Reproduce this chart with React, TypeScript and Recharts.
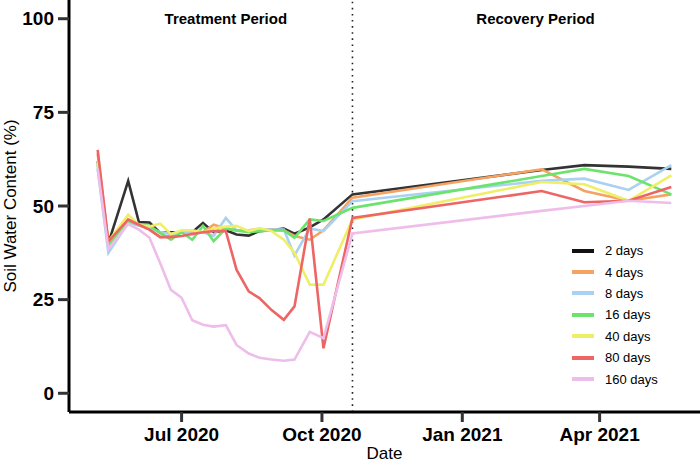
import React from 'react';
import {
  LineChart,
  Line,
  XAxis,
  YAxis,
  ReferenceLine,
  ReferenceDot,
  Legend,
} from 'recharts';

// sampling dates (treatment weekly-ish, then recovery)
const sampleDates = [
  '2020-05-07', '2020-05-14', '2020-05-27', '2020-06-03', '2020-06-10',
  '2020-06-17', '2020-06-24', '2020-07-01', '2020-07-08', '2020-07-15',
  '2020-07-22', '2020-07-30', '2020-08-06', '2020-08-14', '2020-08-21',
  '2020-08-29', '2020-09-06', '2020-09-13', '2020-09-23', '2020-10-02',
  '2020-10-21', '2021-02-22', '2021-03-22', '2021-04-20', '2021-05-18',
];

const days2 = [62, 40, 56.7, 45.7, 45.6, 42.8, 43, 43, 43, 45.5, 43, 43.5, 42.4, 42.1, 43.3, 43.6, 44, 42.6, 44.3, 46.4, 53.1, 59.6, 60.9, 60.5, 59.9];
const days4 = [64, 40, 46.4, 45, 43.7, 41.7, 42, 43, 43, 43, 45, 44, 43.5, 43.5, 43.8, 43.8, 43.5, 42, 41, 43.5, 52.2, 59.8, 54, 51.4, 53.1];
const days8 = [60, 37.5, 45.5, 44.7, 44.2, 43, 42.5, 43, 42.5, 43, 42, 46.8, 43.5, 43.5, 43.7, 43.7, 43.7, 36.8, 44, 43.3, 51.3, 56.7, 57.3, 54.3, 60.9];
const days16 = [61, 39.5, 46, 45, 44.7, 42.8, 41, 43, 41, 44.7, 40.6, 44, 43.5, 43, 43.3, 43.5, 43.5, 41.5, 46.4, 46, 49.5, 58, 59.9, 58, 53.1];
const days40 = [62, 40.5, 47.7, 45, 44.5, 45.3, 42.5, 43.5, 43.5, 43, 44, 44.5, 44.7, 43.3, 44.1, 43.3, 41, 37.5, 29, 29, 46.4, 56.4, 55.8, 51.4, 58.2];
const days80 = [65, 40.5, 46.4, 45, 43.7, 41.7, 41.7, 42, 42.5, 43, 43.3, 43.3, 33, 27.2, 25.4, 22.2, 19.6, 23.2, 46.6, 12, 46.8, 54, 51, 51.4, 55.1];
const days160 = [60, 38.5, 45.2, 43.7, 41.5, 34.7, 27.6, 25.5, 19.5, 18.3, 17.8, 18.2, 12.9, 10.6, 9.5, 9, 8.7, 9, 16.4, 14.7, 42.7, 48.7, 50, 51.4, 50.8];

const seriesKeys = ['d2', 'd4', 'd8', 'd16', 'd40', 'd80', 'd160'];
const seriesNames = ['2 days', '4 days', '8 days', '16 days', '40 days', '80 days', '160 days'];
const seriesValues = [days2, days4, days8, days16, days40, days80, days160];
const seriesColors = ['#333333', '#F5A262', '#A9D1F2', '#6CE36C', '#F0EE66', '#EE6565', '#EEBDEA'];

const xTickDates = ['2020-07-01', '2020-10-01', '2021-01-01', '2021-04-01'];
const yTicks = [0, 25, 50, 75, 100];
const recoveryStart = '2020-10-21';
const periodLabels = ['Treatment Period', 'Recovery Period'];
const periodLabelDates = ['2020-07-30', '2021-02-18'];

const MONTHS = ['Jan', 'Feb', 'Mar', 'Apr', 'May', 'Jun', 'Jul', 'Aug', 'Sep', 'Oct', 'Nov', 'Dec'];
const toDay = (s: string) => Date.parse(s + 'T00:00:00Z') / 86400000;
const fmtTick = (d: number) => {
  const dt = new Date(Math.round(d) * 86400000);
  return `${MONTHS[dt.getUTCMonth()]} ${dt.getUTCFullYear()}`;
};

const data = sampleDates.map((s, i) => {
  const row: Record<string, number> = { t: toDay(s) };
  seriesKeys.forEach((k, j) => {
    row[k] = seriesValues[j][i];
  });
  return row;
});

const tMin = toDay(sampleDates[0]);
const tMax = toDay(sampleDates[sampleDates.length - 1]);
const pad = (tMax - tMin) * 0.05;

const FONT = '"Liberation Sans", Arial, sans-serif';

const renderLegend = () => (
  <div style={{ fontFamily: FONT, fontSize: 13, color: '#000' }}>
    {seriesNames.map((n, i) => (
      <div key={n} style={{ display: 'flex', alignItems: 'center', height: 21.4 }}>
        <span style={{ display: 'inline-block', width: 22, height: 4, background: i === 0 ? '#111' : seriesColors[i], marginRight: 11 }} />
        <span>{n}</span>
      </div>
    ))}
  </div>
);

export default function App() {
  return (
    <div style={{ position: 'absolute', left: 0, top: 0, background: '#fff' }}>
      <LineChart
        width={700}
        height={463}
        data={data}
        margin={{ top: 0, right: 0, bottom: 0, left: 0 }}
        style={{ fontFamily: FONT }}
      >
        <XAxis
          dataKey="t"
          type="number"
          domain={[tMin - pad, tMax + pad]}
          ticks={xTickDates.map(toDay)}
          tickFormatter={fmtTick}
          height={51}
          axisLine={{ stroke: '#000', strokeWidth: 3 }}
          tickLine={{ stroke: '#333', strokeWidth: 3 }}
          tickSize={10}
          tickMargin={6}
          tick={{ fill: '#000', fontSize: 19, fontWeight: 'bold', fontFamily: FONT }}
          label={{ value: 'Date', position: 'insideBottom', offset: 4, fill: '#000', fontSize: 17, fontFamily: FONT }}
          allowDataOverflow
        />
        <YAxis
          type="number"
          domain={[-5, 105]}
          ticks={yTicks}
          width={69}
          axisLine={{ stroke: '#000', strokeWidth: 3 }}
          tickLine={{ stroke: '#333', strokeWidth: 3 }}
          tickSize={11}
          tickMargin={4}
          tick={{ fill: '#000', fontSize: 19, fontWeight: 'bold', fontFamily: FONT }}
          label={{
            value: 'Soil Water Content (%)',
            angle: -90,
            position: 'insideLeft',
            offset: 10,
            fill: '#000',
            fontSize: 17,
            fontFamily: FONT,
            style: { textAnchor: 'middle' },
          }}
          allowDataOverflow
        />
        <ReferenceLine
          x={toDay(recoveryStart)}
          stroke="#222"
          strokeWidth={1.6}
          strokeDasharray="1.6 4.5"
        />
        {periodLabels.map((p, i) => (
          <ReferenceDot
            key={p}
            x={toDay(periodLabelDates[i])}
            y={100}
            r={0}
            fill="none"
            stroke="none"
            label={{ value: p, position: 'center', fill: '#000', fontSize: 15, fontWeight: 'bold', fontFamily: FONT }}
          />
        ))}
        {seriesKeys.map((k, i) => (
          <Line
            key={k}
            type="linear"
            dataKey={k}
            name={seriesNames[i]}
            stroke={seriesColors[i]}
            strokeWidth={2.6}
            dot={false}
            activeDot={false}
            isAnimationActive={false}
          />
        ))}
        <Legend
          layout="vertical"
          align="center"
          verticalAlign="middle"
          content={renderLegend}
          wrapperStyle={{ left: 572, top: 240, width: 120, height: 150 }}
        />
      </LineChart>
    </div>
  );
}
